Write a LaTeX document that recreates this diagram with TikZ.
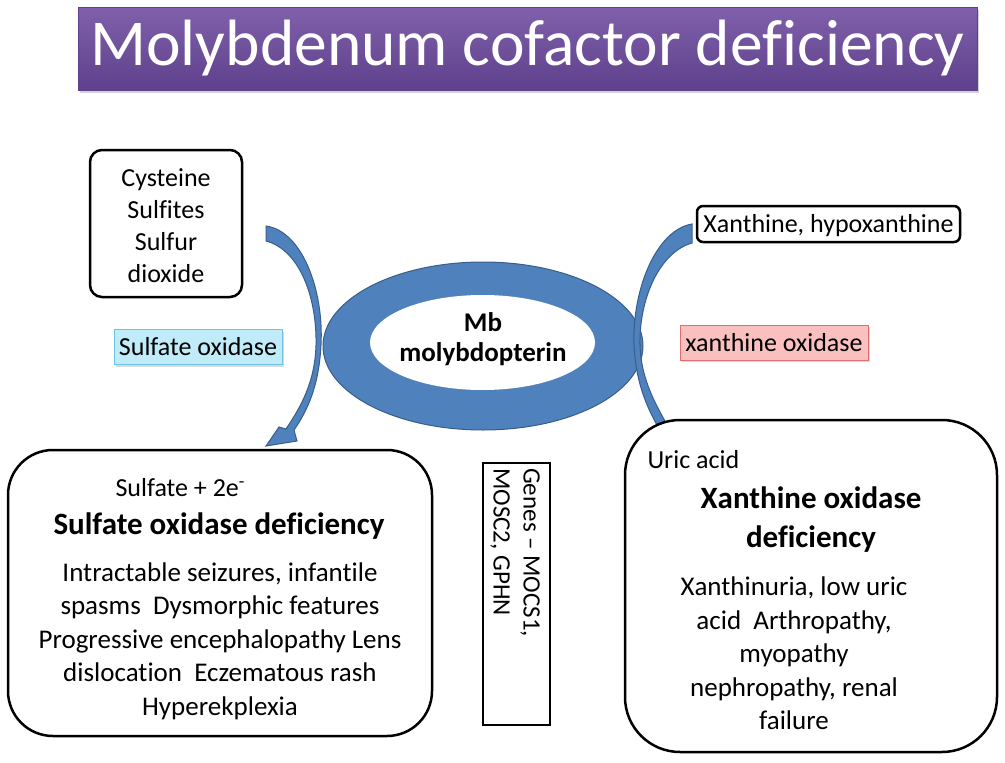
\documentclass[tikz,border=0pt]{standalone}
\usepackage{fontspec}
\setmainfont{Carlito}[Ligatures=NoCommon]
\usetikzlibrary{shapes,arrows,positioning,shadows}
\definecolor{cofblue}{RGB}{79,129,189}
\definecolor{cofedge}{RGB}{56,93,138}
\definecolor{titletop}{RGB}{128,96,170}
\definecolor{titlebot}{RGB}{94,64,140}
\definecolor{sulfill}{RGB}{192,236,250}
\definecolor{suledge}{RGB}{110,195,228}
\definecolor{xanfill}{RGB}{250,192,192}
\definecolor{xanedge}{RGB}{222,112,112}
\newcommand{\cofsmall}{\fontsize{26}{32}\selectfont}
\newcommand{\cofbody}{\fontsize{27}{33.5}\selectfont}
\newcommand{\cofhead}{\fontsize{31}{38.5}\selectfont\bfseries}
\tikzstyle{titlebox} = [rectangle, top color=titletop, bottom color=titlebot,
    draw=titlebot, minimum width=899pt, minimum height=83pt, text=white,
    font=\fontsize{65.5}{78}\selectfont, drop shadow={opacity=0.35, shadow xshift=2pt, shadow yshift=-3pt}]
\tikzstyle{substrate} = [rectangle, draw, line width=2.5pt, fill=white,
    rounded corners=12pt, align=center, font=\cofsmall, inner sep=0pt]
\tikzstyle{enzyme} = [rectangle, draw, line width=1pt, minimum height=35pt,
    inner sep=4pt, font=\cofsmall, drop shadow={opacity=0.3, shadow xshift=2pt, shadow yshift=-2pt}]
\tikzstyle{disorder} = [rectangle, draw, line width=2.5pt, fill=white]
\tikzstyle{curved} = [fill=cofblue, draw=cofedge, line width=1pt]

\begin{document}
\begin{tikzpicture}[x=1pt, y=-1pt]
    \useasboundingbox (0,0) rectangle (1005,763);

    \node[titlebox] (title) at (527.5,48.5) {Molybdenum cofactor deficiency};

    % cofactor ring
    \node[ellipse, fill=cofblue, draw=cofedge, line width=1pt,
        minimum width=320pt, minimum height=168pt] (ring) at (483,346) {};
    \node[ellipse, fill=white, minimum width=225pt, minimum height=95pt] (core) at (482.5,342.5) {};
    \node[align=center, font=\fontsize{27}{30}\selectfont\bfseries] (coreText) at (483,339) {Mb\\molybdopterin};

    % curved arrows
    \path[curved] (266,226) .. controls (302,231) and (324,290) .. (321,345)
        .. controls (319,385) and (308,410) .. (294,430) -- (297,441) -- (266,446)
        -- (279,427) -- (286,429) .. controls (300,408) and (315,383) .. (316,345)
        .. controls (317,298) and (300,250) .. (266,241) -- cycle;
    \path[curved] (692,224) .. controls (656,230) and (632,290) .. (634,345)
        .. controls (636,385) and (648,410) .. (662,434) -- (670,430)
        .. controls (656,405) and (641,380) .. (640,345)
        .. controls (639,298) and (660,252) .. (692,243) -- cycle;

    % substrates and enzymes
    \node[substrate, minimum width=152pt, minimum height=147pt] (sulfurIn) at (166,223.5) {};
    \node[align=center, font=\cofsmall] (sulfurText) at (166,226) {Cysteine\\Sulfites\\Sulfur\\dioxide};
    \node[substrate, rounded corners=6pt, minimum width=263pt, minimum height=36pt] (xanthineIn) at (828.5,224) {};
    \node[font=\cofsmall] (xanthineText) at (828.5,226) {Xanthine, hypoxanthine};
    \node[enzyme, fill=sulfill, draw=suledge, minimum width=168pt] (sulfateOx) at (198,347) {Sulfate oxidase};
    \node[enzyme, fill=xanfill, draw=xanedge, minimum width=188pt] (xanthineOx) at (774,342.5) {xanthine oxidase};

    % deficiencies
    \node[disorder, rounded corners=45pt, minimum width=424pt, minimum height=286pt] (sod) at (220,593) {};
    \node[anchor=west, font=\cofsmall] (sodProduct) at (112,488) {Sulfate + 2e\textsuperscript{-}};
    \node[font=\cofhead] (sodHead) at (219,526) {Sulfate oxidase deficiency};
    \node[align=center, font=\cofbody] (sodSigns) at (220,641)
        {Intractable seizures, infantile\\spasms\ \ Dysmorphic features\\Progressive encephalopathy Lens\\dislocation\ \ Eczematous rash\\Hyperekplexia};

    \node[disorder, rounded corners=55pt, minimum width=372pt, minimum height=332pt] (xod) at (811,586) {};
    \node[anchor=west, font=\cofsmall] (xodProduct) at (644,460) {Uric acid};
    \node[align=center, font=\cofhead] (xodHead) at (811,519.5) {Xanthine oxidase\\deficiency};
    \node[align=center, font=\cofbody] (xodSigns) at (794,653.5)
        {Xanthinuria, low uric\\acid\ \ Arthropathy,\\myopathy\\nephropathy, renal\\failure};

    % genes
    \node[draw, line width=2pt, minimum width=67pt, minimum height=262pt] (genesBox) at (516,593.5) {};
    \node[rotate=-90, anchor=north west, inner sep=0pt, align=left,
        font=\fontsize{25}{30}\selectfont] (genes) at (540,468) {Genes -- MOCS1,\\MOSC2, GPHN};
\end{tikzpicture}
\end{document}
